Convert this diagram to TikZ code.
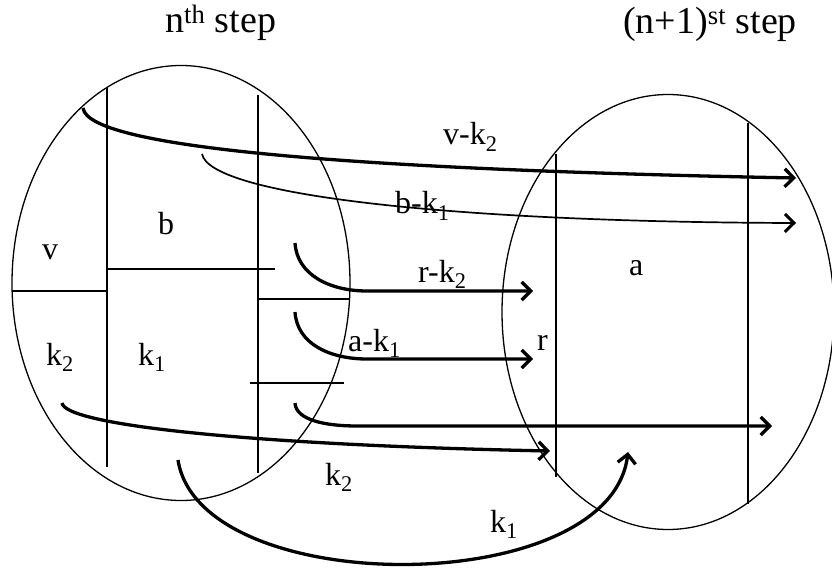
\documentclass[tikz,border=0pt]{standalone}
\usepackage{fontspec}
\setmainfont{Liberation Serif}
\usetikzlibrary{arrows.meta,shapes.geometric}

\begin{document}
\begin{tikzpicture}[x=1pt, y=-1pt,
  region/.style={ellipse, draw, line width=1.3pt, inner sep=0pt},
  cut/.style={line width=1.3pt},
  lbl/.style={anchor=base west, inner sep=0pt, font=\fontsize{32}{38}\selectfont},
  title/.style={lbl, font=\fontsize{38}{44}\selectfont},
  arr/.style={-{Straight Barb[length=9pt,width=18pt]}, line width=3.3pt},
  thinarr/.style={-{Straight Barb[length=9pt,width=18pt,line width=3pt]}, line width=1.7pt}
]
\useasboundingbox (0,0) rectangle (832,569);

% Titles
\node[title] (ntitle)  at (165,33) {n\textsuperscript{th} step};
\node[title] (n1title) at (623,34) {(n+1)\textsuperscript{st} step};

% n-th step
\node[region, minimum width=338pt, minimum height=435pt] (nstep) at (181,283) {};
\draw[cut] (107,88) -- (107,467);
\draw[cut] (258,95) -- (258,473);
\draw[cut] (12,291) -- (107,291);
\draw[cut] (107,269) -- (275,269);
\draw[cut] (258,299) -- (350,299);
\draw[cut] (250,383) -- (344,383);

\node[lbl] (v)  at (42,260)  {v};
\node[lbl] (b)  at (158,235) {b};
\node[lbl] (k2) at (46,365)  {k\textsubscript{2}};
\node[lbl] (k1) at (138,365) {k\textsubscript{1}};

% (n+1)-st step
\node[region, minimum width=332pt, minimum height=435pt] (n1step) at (668,312) {};
\draw[cut] (556,154) -- (556,477);
\draw[cut] (748,123) -- (748,504);

\node[lbl] (a) at (629,276) {a};
\node[lbl] (r) at (537,350) {r};

% Ends of the moves
\coordinate (vk2s) at (83,108);   \coordinate (vk2e) at (796,178);
\coordinate (bk1s) at (202,154);  \coordinate (bk1e) at (796,223);
\coordinate (rk2s) at (295,243);  \coordinate (rk2e) at (533,291);
\coordinate (ak1s) at (295,312);  \coordinate (ak1e) at (533,359);
\coordinate (rests) at (295,403); \coordinate (reste) at (772,426);
\coordinate (k2s) at (62,403);    \coordinate (k2e) at (550,451);
\coordinate (k1s) at (178,460);   \coordinate (k1e) at (628,452);

% Moves
\draw[arr] (vk2s) .. controls +(5,42) and +(-416,-8) .. (vk2e);
\draw[thinarr] (bk1s) .. controls +(8,41) and +(-346,-1) .. (bk1e);
\draw[arr] (rk2s) .. controls (297,275) and (330,291) .. (367,291) -- (rk2e);
\draw[arr] (ak1s) .. controls (297,344) and (330,359) .. (367,359) -- (ak1e);
\draw[arr] (rests) .. controls (296,420) and (325,426) .. (357,426) -- (reste);
\draw[arr] (k2s) .. controls +(3,22) and +(-300,-6) .. (k2e);
\draw[arr] (k1s) .. controls +(22,140) and +(-18,148) .. (k1e);

\node[lbl] (vk2) at (443,145) {v-k\textsubscript{2}};
\node[lbl] (bk1) at (395,214) {b-k\textsubscript{1}};
\node[lbl] (rk2) at (418,282) {r-k\textsubscript{2}};
\node[lbl] (ak1) at (348,351) {a-k\textsubscript{1}};
\node[lbl] (k2m) at (325,485) {k\textsubscript{2}};
\node[lbl] (k1m) at (490,532) {k\textsubscript{1}};

\end{tikzpicture}
\end{document}
